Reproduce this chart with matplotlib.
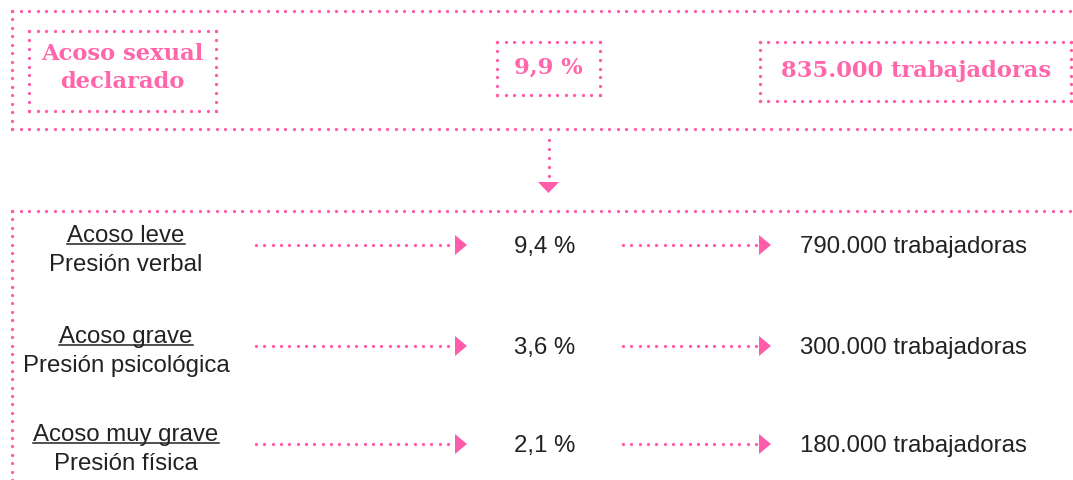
import numpy as np
import matplotlib.pyplot as plt

# datos
titulo = ["Acoso sexual", "declarado"]
total_pct = "9,9 %"
total_trab = "835.000 trabajadoras"
niveles = ["Acoso leve", "Acoso grave", "Acoso muy grave"]
tipos = ["Presión verbal", "Presión psicológica", "Presión física"]
porcentajes = [9.4, 3.6, 2.1]
trabajadoras = [790000, 300000, 180000]

PINK = "#ff5cab"
PINK_TXT = "#ff66ab"
DARK = "#222222"

W, H = 1073, 481
fig = plt.figure(figsize=(W / 100, H / 100), dpi=100)
ax = fig.add_axes([0, 0, 1, 1])
ax.set_xlim(0, W)
ax.set_ylim(H, 0)
ax.axis("off")


def dots(x0, y0, x1, y1):
    n = int(round(max(abs(x1 - x0), abs(y1 - y0)) / 8.5))
    xs = np.linspace(x0, x1, n + 1)
    ys = np.linspace(y0, y1, n + 1)
    ax.scatter(xs, ys, s=5.5, marker="o", color=PINK, linewidths=0)


def box(x0, y0, x1, y1):
    dots(x0, y0, x1, y0)
    dots(x0, y1, x1, y1)
    dots(x0, y0, x0, y1)
    dots(x1, y0, x1, y1)


def tri_right(x, y):
    ax.fill([x, x, x + 12], [y - 10, y + 10, y], color=PINK, lw=0)


# bloque superior
dots(12, 12, 1070, 12)
dots(12, 130, 1070, 130)
dots(12, 12, 12, 130)
box(29, 32, 216, 112)
box(497, 43, 600, 96)
box(760, 43, 1071, 102)

serif = dict(family="DejaVu Serif", weight="bold", color=PINK_TXT, fontsize=16.3,
             ha="center", va="center")
ax.text(122, 54, titulo[0], **serif)
ax.text(122, 82, titulo[1], **serif)
ax.text(548, 68, total_pct, **serif)
ax.text(916, 71, total_trab, **serif)

# flecha hacia abajo
dots(549, 141, 549, 177)
ax.fill([538, 559, 548.5], [183, 183, 194], color=PINK, lw=0)

# bloque inferior
dots(12, 212, 1070, 212)
dots(12, 212, 12, 481)

sans = dict(family="Liberation Sans", color=DARK, fontsize=17.3, va="center")
row_y = [247, 348, 446]
fig.canvas.draw()
renderer = fig.canvas.get_renderer()
for y, nivel, tipo, pct, n in zip(row_y, niveles, tipos, porcentajes, trabajadoras):
    t = ax.text(126, y - 11, nivel, ha="center", **sans)
    ax.text(126, y + 18, tipo, ha="center", **sans)
    bb = t.get_window_extent(renderer).transformed(ax.transData.inverted())
    ax.plot([bb.x0, bb.x1], [y - 2, y - 2], color=DARK, lw=1.1)

    dots(256, y - 1, 448, y - 1)
    tri_right(455, y - 1)
    ax.text(545, y + 0.5, f"{pct:.1f} %".replace(".", ","), ha="center", **sans)
    dots(623, y - 1, 756, y - 1)
    tri_right(759, y - 1)
    ax.text(800, y + 0.5, f"{n:,} trabajadoras".replace(",", "."), ha="left", **sans)

fig.savefig("out.png", dpi=100)
